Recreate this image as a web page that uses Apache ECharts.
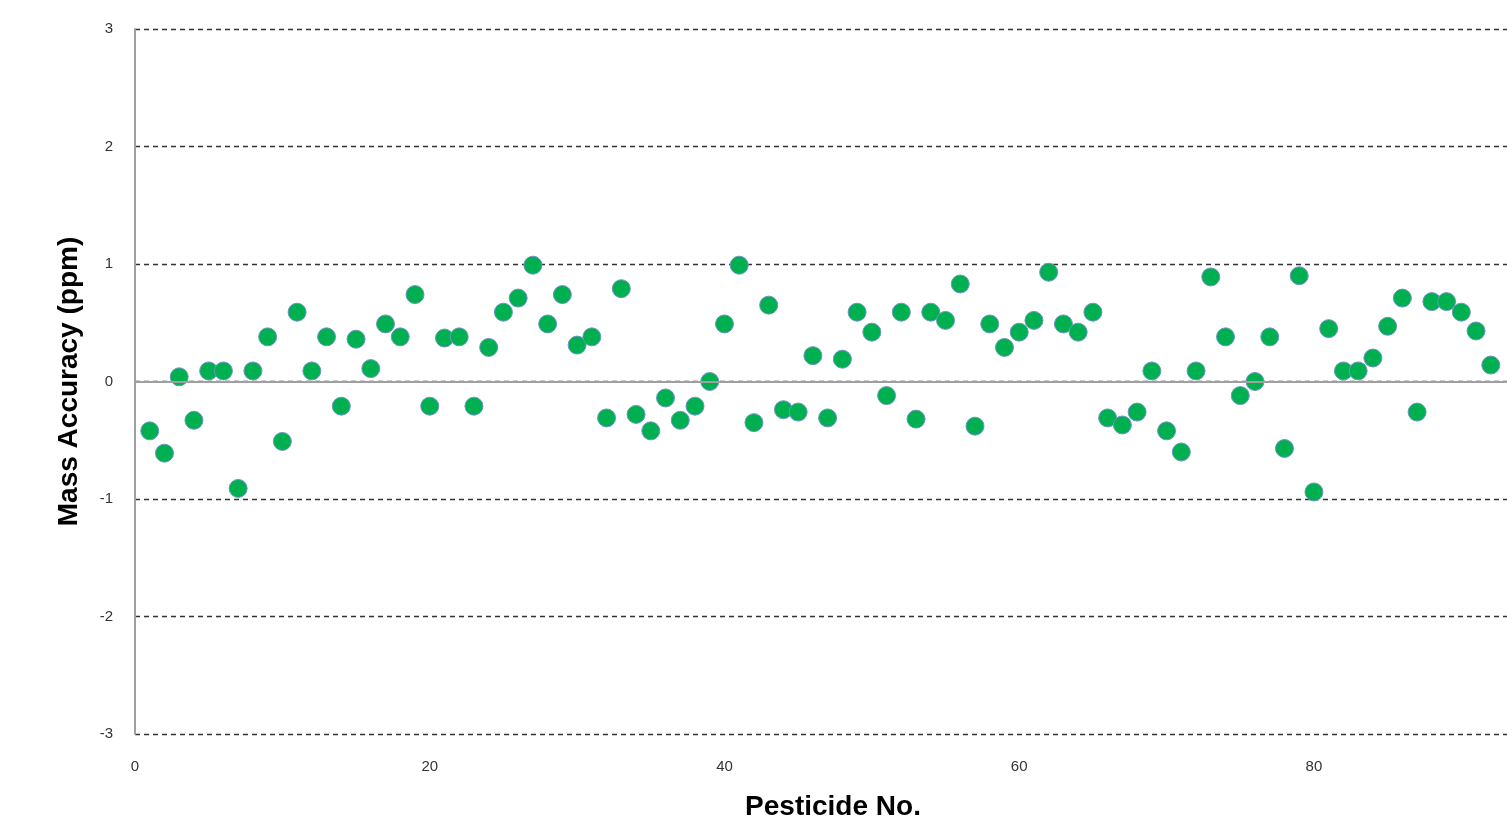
<!DOCTYPE html>
<html>
<head>
<meta charset="utf-8">
<script src="https://cdn.jsdelivr.net/npm/echarts@6/dist/echarts.min.js"></script>
<style>html,body{margin:0;padding:0;background:#fff;}#c{width:1507px;height:832px;}</style>
</head>
<body>
<div id="c"></div>
<script>
const pesticideNo = [1,2,3,4,5,6,7,8,9,10,11,12,13,14,15,16,17,18,19,20,21,22,23,24,25,26,27,28,29,30,31,32,33,34,35,36,37,38,39,40,41,42,43,44,45,46,47,48,49,50,51,52,53,54,55,56,57,58,59,60,61,62,63,64,65,66,67,68,69,70,71,72,73,74,75,76,77,78,79,80,81,82,83,84,85,86,87,88,89,90,91,92];
const massAccuracy = [-0.42,-0.61,0.04,-0.33,0.09,0.09,-0.91,0.09,0.38,-0.51,0.59,0.09,0.38,-0.21,0.36,0.11,0.49,0.38,0.74,-0.21,0.37,0.38,-0.21,0.29,0.59,0.71,0.99,0.49,0.74,0.31,0.38,-0.31,0.79,-0.28,-0.42,-0.14,-0.33,-0.21,0,0.49,0.99,-0.35,0.65,-0.24,-0.26,0.22,-0.31,0.19,0.59,0.42,-0.12,0.59,-0.32,0.59,0.52,0.83,-0.38,0.49,0.29,0.42,0.52,0.93,0.49,0.42,0.59,-0.31,-0.37,-0.26,0.09,-0.42,-0.60,0.09,0.89,0.38,-0.12,0,0.38,-0.57,0.90,-0.94,0.45,0.09,0.09,0.20,0.47,0.71,-0.26,0.68,0.68,0.59,0.43,0.14];
const xTicks = [0,20,40,60,80];
const yTicks = [-3,-2,-1,0,1,2,3];

const chart = echarts.init(document.getElementById('c'));
const fontFam = '"Liberation Sans", Arial, sans-serif';
chart.setOption({
  animation:false,
  grid:{left:135, right:0, top:29, bottom:98},
  xAxis:{
    type:'value', min:0, max:93.1, interval:20,
    name:'Pesticide No.', nameLocation:'middle', nameGap:59,
    nameTextStyle:{fontFamily:fontFam, fontWeight:'bold', fontSize:28, color:'#000', padding:[0,0,0,24]},
    axisLine:{show:false}, axisTick:{show:false},
    axisLabel:{margin:25, fontFamily:fontFam, fontSize:15, color:'#333', showMaxLabel:false,
      formatter:v=>xTicks.includes(v)?String(v):''},
    splitLine:{show:false}
  },
  yAxis:{
    type:'value', min:-3, max:3, interval:1,
    name:'Mass Accuracy (ppm)', nameLocation:'middle', nameGap:52,
    nameTextStyle:{fontFamily:fontFam, fontWeight:'bold', fontSize:28, color:'#000'},
    axisLine:{show:true, lineStyle:{color:'#a0a0a0', width:2}},
    axisTick:{show:false},
    axisLabel:{margin:22, fontFamily:fontFam, fontSize:15, color:'#333',
      formatter:v=>yTicks.includes(v)?String(v):''},
    splitLine:{show:true, lineStyle:{color:'#333', type:[5,4], width:1.3}}
  },
  series:[{
    type:'scatter',
    data:pesticideNo.map((x,i)=>[x, massAccuracy[i]]),
    symbol:'circle', symbolSize:18,
    itemStyle:{color:'#00B050', opacity:1, borderColor:'#6f93c6', borderWidth:1},
    markLine:{silent:true, symbol:'none', label:{show:false},
      lineStyle:{color:'#a0a0a0', type:'solid', width:2},
      data:[{yAxis:0}]},
    z:3
  }]
});
</script>
</body>
</html>
